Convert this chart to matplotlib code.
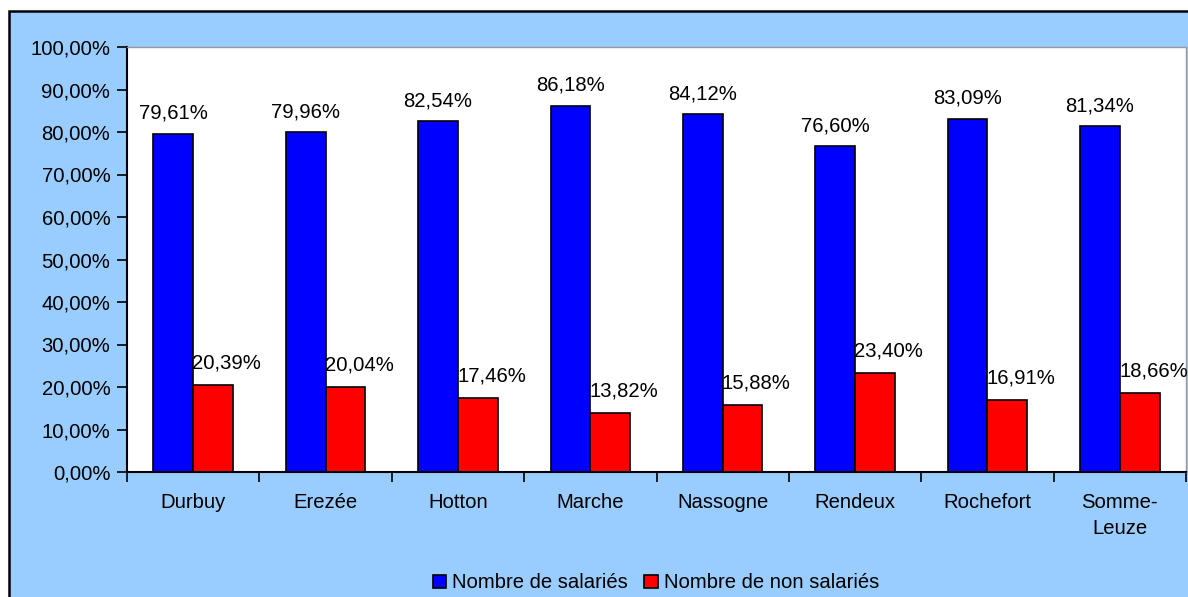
import numpy as np
import matplotlib.pyplot as plt
from matplotlib.patches import Rectangle

plt.rcParams['font.family'] = ['Liberation Sans', 'DejaVu Sans']
plt.rcParams['font.size'] = 14.6

communes = ['Durbuy', 'Erezée', 'Hotton', 'Marche', 'Nassogne', 'Rendeux',
            'Rochefort', 'Somme-\nLeuze']
salaries = [79.61, 79.96, 82.54, 86.18, 84.12, 76.60, 83.09, 81.34]
non_salaries = [20.39, 20.04, 17.46, 13.82, 15.88, 23.40, 16.91, 18.66]


def pct(v):
    return f'{v:.2f}%'.replace('.', ',')


fig = plt.figure(figsize=(11.88, 5.97), dpi=100, facecolor='white')
fig.patches.append(Rectangle((9 / 1188, -0.1), 1.2, 1.1 - 11 / 597,
                             transform=fig.transFigure, facecolor='#99CCFF',
                             edgecolor='black', linewidth=1.8, zorder=-10))

ax = fig.add_axes([127 / 1188, 1 - 472 / 597, 1059 / 1188, 425 / 597])
ax.set_facecolor('white')

x = np.arange(len(communes))
w = 0.3
ax.bar(x - w / 2, salaries, w, color='#0000FF', edgecolor='black',
       linewidth=1.2, label='Nombre de salariés', zorder=2)
ax.bar(x + w / 2, non_salaries, w, color='#FF0000', edgecolor='black',
       linewidth=1.2, label='Nombre de non salariés', zorder=2)

for xi, v in zip(x, salaries):
    ax.annotate(pct(v), (xi - w / 2, v), xytext=(0, 8), textcoords='offset points',
                ha='center', va='bottom', zorder=3)
for xi, v in zip(x, non_salaries):
    ax.annotate(pct(v), (xi + w / 2, v), xytext=(10, 9), textcoords='offset points',
                ha='center', va='bottom', zorder=3)

ax.set_xlim(-0.5, len(communes) - 0.5)
ax.set_ylim(0, 100)
ax.set_yticks(np.arange(0, 101, 10))
ax.set_yticklabels([pct(v) for v in np.arange(0, 101, 10)])
ax.set_xticks(np.arange(-0.5, len(communes), 1))
ax.set_xticklabels([])
ax.set_xticks(x, minor=True)
ax.set_xticklabels(communes, minor=True, linespacing=1.45)
ax.tick_params(axis='x', which='minor', length=0, pad=15)
ax.tick_params(axis='x', which='major', length=7, width=1.2, direction='out')
ax.tick_params(axis='y', length=7, width=1.2, direction='out', pad=5)

for s in ['left', 'bottom']:
    ax.spines[s].set_color('black')
    ax.spines[s].set_linewidth(1.5)
for s in ['top', 'right']:
    ax.spines[s].set_color('#999999')
    ax.spines[s].set_linewidth(1.0)

fig.legend(loc='center', bbox_to_anchor=(656 / 1188, 1 - 583 / 597),
           ncol=2, frameon=False, handlelength=0.65,
           handleheight=0.65, handletextpad=0.3, columnspacing=0.8,
           borderpad=0)

fig.savefig('out.png', dpi=100, facecolor=fig.get_facecolor())
